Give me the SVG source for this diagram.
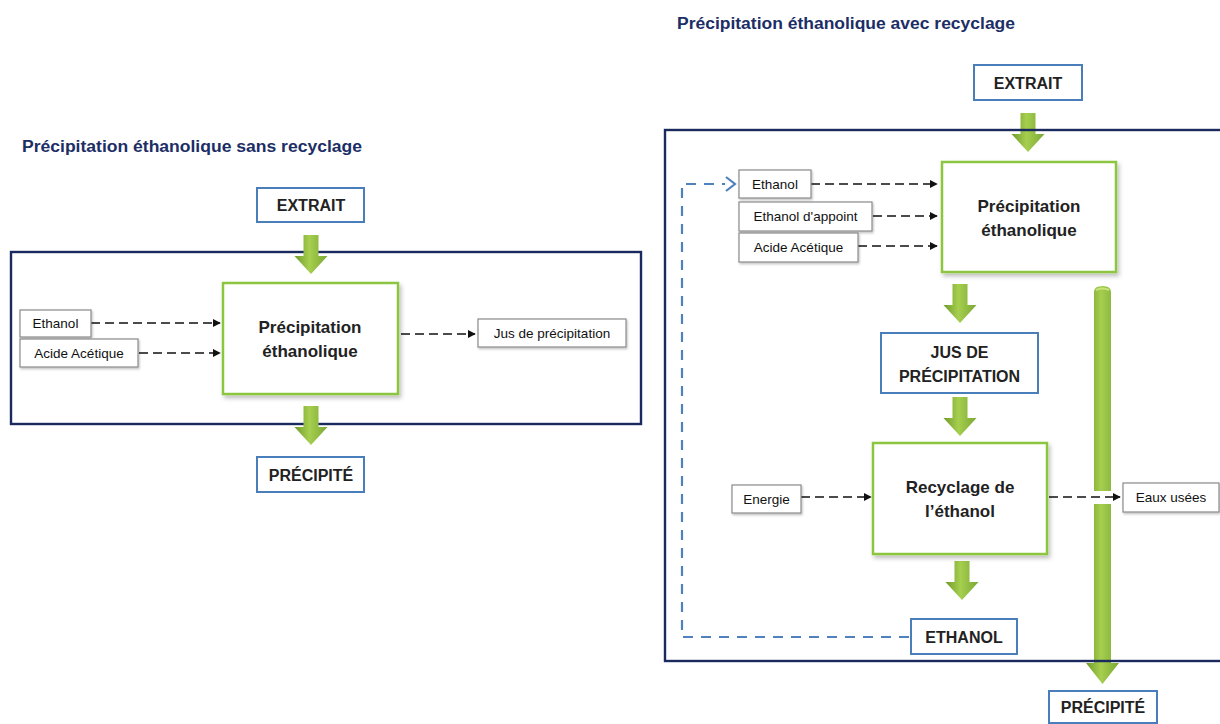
<svg xmlns="http://www.w3.org/2000/svg" width="1220" height="724" viewBox="0 0 1220 724">
<style>
.title{font-family:"Liberation Sans",Arial,sans-serif;font-weight:bold;font-size:16px;fill:#1c2e66}
.panel{fill:none;stroke:#1a2a5e;stroke-width:2.4}
.blue{fill:#fff;stroke:#4a7ebb;stroke-width:2}
.green{fill:#fff;stroke:#8cc63f;stroke-width:2.5;filter:url(#sh)}
.gray{fill:#fff;stroke:#8a8a8a;stroke-width:1.2;filter:url(#sh2)}
.bt{font-family:"Liberation Sans",Arial,sans-serif;font-weight:bold;font-size:16px;fill:#222;text-anchor:middle}
.pt{font-family:"Liberation Sans",Arial,sans-serif;font-weight:bold;font-size:17px;fill:#222;text-anchor:middle}
.st{font-family:"Liberation Sans",Arial,sans-serif;font-size:13.5px;fill:#111;text-anchor:middle}
.dash{fill:none;stroke:#111;stroke-width:1.5;stroke-dasharray:9 5;marker-end:url(#ah)}
.loop{fill:none;stroke:#4f81bd;stroke-width:2.2;stroke-dasharray:10 8}
.ga{fill:url(#gg)}
</style>
<defs>
<linearGradient id="gg" x1="0" y1="0" x2="1" y2="0">
<stop offset="0" stop-color="#6f9a2a"/>
<stop offset="0.45" stop-color="#a6cf4f"/>
<stop offset="1" stop-color="#7aa833"/>
</linearGradient>
<filter id="sh" x="-10%" y="-10%" width="125%" height="125%">
<feDropShadow dx="2" dy="3" stdDeviation="2" flood-color="#000" flood-opacity="0.25"/>
</filter>
<filter id="sh2" x="-10%" y="-20%" width="125%" height="150%">
<feDropShadow dx="1" dy="1.5" stdDeviation="1" flood-color="#000" flood-opacity="0.25"/>
</filter>
<marker id="ah" viewBox="0 0 10 10" refX="9" refY="5" markerWidth="8" markerHeight="8" markerUnits="userSpaceOnUse" orient="auto">
<path d="M0,0 L10,5 L0,10 Z" fill="#111"/>
</marker>
<path id="garrow" d="M-7.5,0 H7.5 V21 H16.5 L0,39 L-16.5,21 H-7.5 Z"/>
</defs>

<!-- LEFT -->
<text class="title" x="22" y="152" textLength="340" lengthAdjust="spacingAndGlyphs">Précipitation éthanolique sans recyclage</text>
<rect class="panel" x="11" y="252" width="630" height="172"/>

<g id="connectors">
<use href="#garrow" class="ga" transform="translate(311,235)"/>
<use href="#garrow" class="ga" transform="translate(311,406)"/>
<line class="dash" x1="91" y1="323" x2="220" y2="323"/>
<line class="dash" x1="139" y1="353" x2="220" y2="353"/>
<line class="dash" x1="401" y1="334" x2="475" y2="334"/>

<use href="#garrow" class="ga" transform="translate(1028,113)"/>
<use href="#garrow" class="ga" transform="translate(960,284)"/>
<use href="#garrow" class="ga" transform="translate(960,397)"/>
<use href="#garrow" class="ga" transform="translate(962,561)"/>
<path class="ga" d="M1094,292 Q1094,286 1102.5,286 Q1111,286 1111,292 V663 H1119 L1102.5,684 L1086,663 H1094 Z"/>
<path d="M1096,290 Q1102.5,287 1109,290" fill="none" stroke="#c8e57a" stroke-width="2"/>
<line class="dash" x1="811" y1="184" x2="937" y2="184"/>
<line class="dash" x1="873" y1="216" x2="937" y2="216"/>
<line class="dash" x1="858" y1="246" x2="937" y2="246"/>
<line class="dash" x1="801" y1="497" x2="871" y2="497"/>
<rect x="1091" y="491" width="23" height="13" fill="#fff"/>
<line class="dash" x1="1049" y1="497" x2="1120" y2="497"/>
<path class="loop" d="M909,637 H682 V184 H725"/>
<path d="M726,177 L735,184 L726,191" fill="none" stroke="#4f81bd" stroke-width="2.2"/>
</g>

<g id="extrait-l"><rect class="blue" x="257" y="188" width="107" height="34"/><text class="bt" x="311" y="211">EXTRAIT</text></g>
<g id="proc-l"><rect class="green" x="223" y="283" width="175" height="111"/><text class="pt" x="310" y="333">Précipitation</text><text class="pt" x="310" y="357">éthanolique</text></g>
<g id="ethanol-l"><rect class="gray" x="20" y="310" width="71" height="27"/><text class="st" x="55.5" y="328">Ethanol</text></g>
<g id="acide-l"><rect class="gray" x="20" y="339" width="118" height="28"/><text class="st" x="79" y="358">Acide Acétique</text></g>
<g id="jus-l"><rect class="gray" x="478" y="319" width="148" height="28"/><text class="st" x="552" y="338">Jus de précipitation</text></g>
<g id="precip-l"><rect class="blue" x="257" y="457" width="107" height="35"/><text class="bt" x="311" y="481">PRÉCIPITÉ</text></g>

<!-- RIGHT -->
<text class="title" x="677" y="29" textLength="338" lengthAdjust="spacingAndGlyphs">Précipitation éthanolique avec recyclage</text>
<rect class="panel" x="665" y="130" width="570" height="531"/>

<g id="extrait-r"><rect class="blue" x="974" y="65" width="108" height="35"/><text class="bt" x="1028" y="89">EXTRAIT</text></g>
<g id="proc-r"><rect class="green" x="942" y="162" width="174" height="110"/><text class="pt" x="1029" y="212">Précipitation</text><text class="pt" x="1029" y="236">éthanolique</text></g>
<g id="ethanol-r"><rect class="gray" x="739" y="170" width="72" height="28"/><text class="st" x="775" y="189">Ethanol</text></g>
<g id="appoint-r"><rect class="gray" x="739" y="202" width="133" height="29"/><text class="st" x="805.5" y="221">Ethanol d'appoint</text></g>
<g id="acide-r"><rect class="gray" x="739" y="233" width="119" height="29"/><text class="st" x="798.5" y="252">Acide Acétique</text></g>
<g id="jus-r"><rect class="blue" x="881" y="333" width="157" height="60"/><text class="bt" x="959.5" y="358">JUS DE</text><text class="bt" x="959.5" y="382">PRÉCIPITATION</text></g>
<g id="recyc-r"><rect class="green" x="873" y="443" width="174" height="111"/><text class="pt" x="960" y="493">Recyclage de</text><text class="pt" x="960" y="517">l’éthanol</text></g>
<g id="energie-r"><rect class="gray" x="732" y="485" width="69" height="28"/><text class="st" x="766.5" y="504">Energie</text></g>
<g id="eaux-r"><rect class="gray" x="1123" y="483" width="96" height="29"/><text class="st" x="1171" y="502">Eaux usées</text></g>
<g id="ethanol-out"><rect class="blue" x="911" y="619" width="106" height="35"/><text class="bt" x="964" y="643">ETHANOL</text></g>
<g id="precip-r"><rect class="blue" x="1049" y="691" width="108" height="32"/><text class="bt" x="1103" y="713">PRÉCIPITÉ</text></g>
</svg>
